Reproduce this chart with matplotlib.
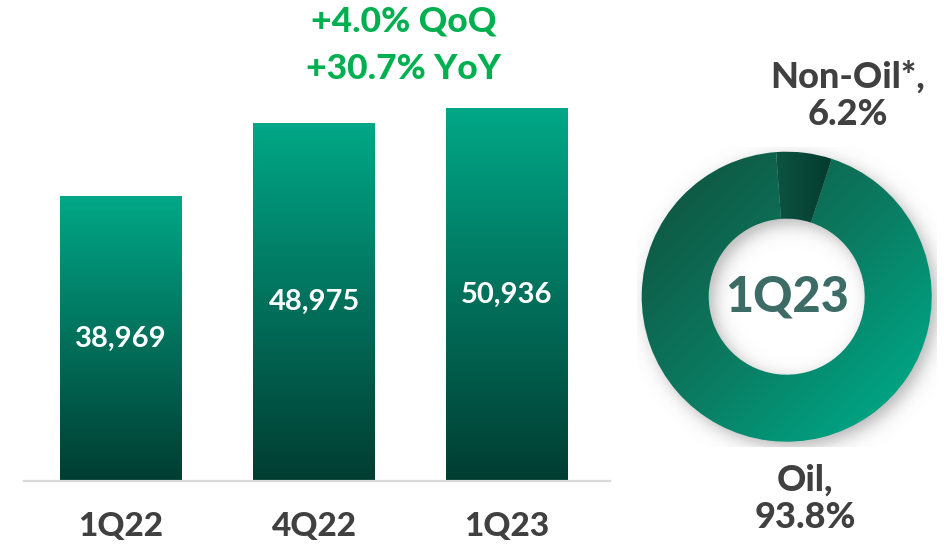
import numpy as np
import matplotlib
matplotlib.use("Agg")
import matplotlib.pyplot as plt
from matplotlib.colors import LinearSegmentedColormap

plt.rcParams['font.family'] = ['Lato', 'DejaVu Sans']

# ---- data ----
quarters = ["1Q22", "4Q22", "1Q23"]
revenue = [38969, 48975, 50936]
growth_lines = ["+4.0% QoQ", "+30.7% YoY"]
mix_labels = ["Oil", "Non-Oil*"]
mix_share = [93.8, 6.2]
donut_title = "1Q23"

W, H = 944, 544
HEAVY = 900
fig = plt.figure(figsize=(W / 100, H / 100), dpi=100)
fig.patch.set_facecolor("white")

# ---- bar chart ----
ax = fig.add_axes([24 / W, (H - 481) / H, (610 - 24) / W, 481 / H])
x = np.arange(len(quarters))
bw = 0.632
bars = ax.bar(x, revenue, width=bw, color="none", edgecolor="none", zorder=2)

bar_cmap = LinearSegmentedColormap.from_list("bar", ["#003d31", "#02715c", "#00a887"])
grad = np.linspace(0, 1, 256).reshape(-1, 1)
for rect in bars:
    x0, w, h = rect.get_x(), rect.get_width(), rect.get_height()
    im = ax.imshow(grad, cmap=bar_cmap, origin="lower", aspect="auto",
                   extent=[x0, x0 + w, 0, h], zorder=2, interpolation="bicubic")
    im.set_clip_path(rect)
ax.set_xlim(-0.503, 2.534)
ax.set_ylim(0, 65750)

for xi, v in zip(x, revenue):
    ax.text(xi, v / 2, f"{v:,}", ha="center", va="center", color="white",
            fontsize=21, fontweight="bold", zorder=3)

for s in ["top", "left", "right"]:
    ax.spines[s].set_visible(False)
ax.spines["bottom"].set_color("#d9d9d9")
ax.spines["bottom"].set_linewidth(1.6)
ax.set_yticks([])
ax.set_xticks(x)
ax.set_xticklabels(quarters, fontsize=24, fontweight=HEAVY, color="#404040")
ax.tick_params(axis="x", length=0, pad=22)
ax.set_facecolor("none")

# growth annotation
fig.text(404 / W, 1 - 22 / H, growth_lines[0], ha="center", va="center",
         fontsize=25.5, fontweight=HEAVY, color="#00b050")
fig.text(404 / W, 1 - 69 / H, growth_lines[1], ha="center", va="center",
         fontsize=25.5, fontweight=HEAVY, color="#00b050")

# ---- donut ----
cx, cy, box = 786.7, 296.7, 300
dax = fig.add_axes([(cx - box / 2) / W, (H - cy - box / 2) / H, box / W, box / H])
lim = (box / 2) / 145
ring_w = (145 - 78) / 145
wedges, _ = dax.pie(mix_share, radius=1, startangle=94.2, counterclock=True,
                    colors=["none", "none"],
                    wedgeprops=dict(width=ring_w, edgecolor="none"))
dax.set_aspect("equal")
dax.axis("off")

# soft shadow
n = 400
gx, gy = np.meshgrid(np.linspace(-lim, lim, n), np.linspace(-lim, lim, n))
r = np.hypot(gx - 0.035, gy + 0.035)
s = 0.035
outer = 1 / (1 + np.exp((r - 1.0) / s))
inner = 1 / (1 + np.exp(-(r - (1 - ring_w)) / s))
shadow = np.zeros((n, n, 4))
shadow[..., :3] = 0.35
shadow[..., 3] = 0.45 * outer * inner
dax.imshow(shadow, extent=[-lim, lim, -lim, lim], origin="lower", zorder=0)

oil_cmap = LinearSegmentedColormap.from_list("oil", ["#0f5a45", "#0b7a60", "#00a383"])
t = (gx - gy)
t = (t - t.min()) / (t.max() - t.min())
im1 = dax.imshow(t, cmap=oil_cmap, extent=[-lim, lim, -lim, lim], origin="lower",
                 zorder=2, vmin=0.15, vmax=0.85)
im1.set_clip_path(wedges[0])

non_cmap = LinearSegmentedColormap.from_list("non", ["#0d5543", "#03382c"])
im2 = dax.imshow(gx, cmap=non_cmap, extent=[-lim, lim, -lim, lim], origin="lower",
                 zorder=2, vmin=-0.1, vmax=0.35)
im2.set_clip_path(wedges[1])
dax.set_xlim(-lim, lim)
dax.set_ylim(-lim, lim)

dax.text(0, 0, donut_title, ha="center", va="center", fontsize=35,
         fontweight=HEAVY, color="#3d6b66", zorder=4)

fig.text(848 / W, 1 - 96 / H, f"{mix_labels[1]},\n{mix_share[1]:.1f}%",
         ha="center", va="center", fontsize=26, fontweight=HEAVY,
         color="#404040", linespacing=1.15)
fig.text(805 / W, 1 - 499 / H, f"{mix_labels[0]},\n{mix_share[0]:.1f}%",
         ha="center", va="center", fontsize=26, fontweight=HEAVY,
         color="#404040", linespacing=1.15)

fig.savefig("out.png", dpi=100, facecolor="white")
